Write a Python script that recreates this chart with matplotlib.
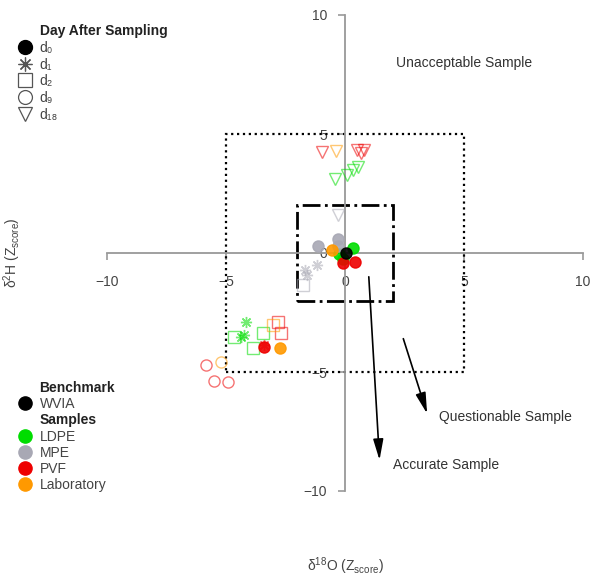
import matplotlib.pyplot as plt
from matplotlib.lines import Line2D
from matplotlib.patches import Rectangle

plt.rcParams['font.family'] = ['Liberation Sans', 'DejaVu Sans']
plt.rcParams['mathtext.fontset'] = 'custom'
plt.rcParams['mathtext.rm'] = 'Liberation Sans'
plt.rcParams['mathtext.it'] = 'Liberation Sans:italic'

# jours de prélèvement
days = [0, 1, 2, 9, 18]
day_labels = ['d₀', 'd₁', 'd₂', 'd₉', 'd₁₈']

# référence
wvia_day = [0]
wvia_x = [0.05]
wvia_y = [0.0]

# échantillons (z-scores delta18O / delta2H)
ldpe_day = [0, 0, 0, 1, 1, 1, 2, 2, 2, 18, 18, 18, 18]
ldpe_x = [-0.25, 0.35, -0.1, -4.17, -4.25, -4.37, -4.67, -3.46, -3.88, -0.42, 0.08, 0.33, 0.54]
ldpe_y = [-0.05, 0.22, -0.25, -2.9, -3.45, -3.53, -3.53, -3.36, -3.99, 3.11, 3.28, 3.49, 3.61]

mpe_day = [0, 0, 0, 1, 1, 1, 2, 18]
mpe_x = [-1.13, -0.29, -0.3, -1.17, -1.58, -1.7, -1.75, -0.29]
mpe_y = [0.29, 0.6, 0.3, -0.5, -0.92, -0.71, -1.34, 1.6]

pvf_day = [0, 0, 0, 1, 2, 2, 9, 9, 9, 18, 18, 18, 18]
pvf_x = [0.42, -0.08, -3.42, -3.42, -2.71, -2.83, -5.83, -5.5, -4.92, -0.96, 0.5, 0.67, 0.79]
pvf_y = [-0.38, -0.42, -3.95, -3.87, -3.36, -2.9, -4.71, -5.38, -5.42, 4.24, 4.33, 4.2, 4.33]

lab_day = [0, 0, 2, 9, 18]
lab_x = [-0.55, -2.75, -3.04, -5.21, -0.38]
lab_y = [0.13, -3.99, -3.03, -4.58, 4.29]

sample_names = ['LDPE', 'MPE', 'PVF', 'Laboratory']
sample_colors = ['#00DD00', '#A8A8B4', '#EE0000', '#FF9900']
sample_data = [(ldpe_day, ldpe_x, ldpe_y), (mpe_day, mpe_x, mpe_y),
               (pvf_day, pvf_x, pvf_y), (lab_day, lab_x, lab_y)]

outer_limit = 5
inner_limit = 2

day_marker = {0: 'o', 1: (8, 2, 0), 2: 's', 9: 'o', 18: 'v'}
day_filled = {0: True, 1: False, 2: False, 9: False, 18: False}


def draw_points(ax, jours, xs, ys, couleur):
    for j, x, y in zip(jours, xs, ys):
        if day_filled[j]:
            ax.plot(x, y, linestyle='None', marker=day_marker[j], markersize=8,
                    color=couleur, markeredgecolor=couleur, alpha=0.9, zorder=4)
        else:
            ax.plot(x, y, linestyle='None', marker=day_marker[j], markersize=8,
                    markerfacecolor='none', markeredgecolor=couleur,
                    markeredgewidth=1.0, alpha=0.55, zorder=3)


fig = plt.figure(figsize=(5.91, 5.77), dpi=100)
ax = fig.add_axes([0, 0, 1, 1])
ax.set_xlim(-345 / 23.8, (591 - 345) / 23.8)
ax.set_ylim(-(577 - 253) / 23.8, 253 / 23.8)

# axes centrés sur l'origine
for s in ['top', 'right']:
    ax.spines[s].set_visible(False)
for s in ['left', 'bottom']:
    ax.spines[s].set_position(('data', 0))
    ax.spines[s].set_bounds(-10, 10)
    ax.spines[s].set_color('#999999')
    ax.spines[s].set_linewidth(1.3)
ax.set_xticks([-10, -5, 0, 5, 10])
ax.set_yticks([-10, -5, 0, 5, 10])
ax.tick_params(axis='x', direction='out', length=5, pad=11, width=1.2,
               colors='#999999', labelcolor='#444444', labelsize=10)
ax.tick_params(axis='y', direction='out', length=5, pad=8, width=1.2,
               colors='#999999', labelcolor='#444444', labelsize=10)

# zones : questionable (pointillé) et accurate (tiret-point)
ax.add_patch(Rectangle((-outer_limit, -outer_limit), 2 * outer_limit, 2 * outer_limit,
                       fill=False, linestyle=':', linewidth=1.6, edgecolor='black', zorder=2))
ax.add_patch(Rectangle((-inner_limit, -inner_limit), 2 * inner_limit, 2 * inner_limit,
                       fill=False, linestyle='-.', linewidth=2.0, edgecolor='black', zorder=2))

for (jours, xs, ys), c in zip(sample_data, sample_colors):
    draw_points(ax, jours, xs, ys, c)
draw_points(ax, wvia_day, wvia_x, wvia_y, 'black')

# flèches et annotations
fleche = dict(arrowstyle='-|>,head_length=0.9,head_width=0.22', color='black', lw=1.2,
              mutation_scale=14, shrinkA=0, shrinkB=0)
ax.annotate('', xy=(1.45, -8.7), xytext=(1.0, -1.0), arrowprops=fleche)
ax.annotate('', xy=(3.45, -6.75), xytext=(2.45, -3.6), arrowprops=fleche)
ax.text(2.0, -8.9, 'Accurate Sample', ha='left', va='center', fontsize=10, color='#333333')
ax.text(3.96, -6.9, 'Questionable Sample', ha='left', va='center', fontsize=10, color='#333333')
ax.text(5.0, 8.0, 'Unacceptable Sample', ha='center', va='center', fontsize=10, color='#333333')

fig.text(345 / 591, 1 - 566 / 577, r'δ$^{18}$O (Z$_{\mathrm{score}}$)', ha='center', va='center',
         fontsize=10, color='#444444')
fig.text(12 / 591, 1 - 253 / 577, r'δ$^{2}$H (Z$_{\mathrm{score}}$)', ha='center', va='center',
         rotation=90, fontsize=10, color='#444444')

# légendes
blank = Line2D([], [], linestyle='None')
day_handles = [blank]
for j in days:
    if day_filled[j]:
        h = Line2D([], [], linestyle='None', marker=day_marker[j], markersize=10, color='black')
    else:
        h = Line2D([], [], linestyle='None', marker=day_marker[j], markersize=10,
                   markerfacecolor='none', markeredgecolor='#555555', markeredgewidth=0.9)
    day_handles.append(h)
leg1 = ax.legend(day_handles, ['Day After Sampling'] + day_labels, loc='upper left',
                 bbox_to_anchor=(18 / 591, 1 - 24 / 577), frameon=False, fontsize=10,
                 handlelength=1.0, handletextpad=0.55, labelspacing=0.2,
                 borderpad=0, borderaxespad=0, labelcolor='#444444')
leg1.get_texts()[0].set_fontweight('bold')
leg1.get_texts()[0].set_color('#222222')
ax.add_artist(leg1)

sample_handles = [blank, Line2D([], [], linestyle='None', marker='o', markersize=9.5, color='black'), blank]
for c in sample_colors:
    sample_handles.append(Line2D([], [], linestyle='None', marker='o', markersize=9.5, color=c))
leg2 = ax.legend(sample_handles, ['Benchmark', 'WVIA', 'Samples'] + sample_names, loc='upper left',
                 bbox_to_anchor=(18 / 591, 1 - 381 / 577), frameon=False, fontsize=10,
                 handlelength=1.0, handletextpad=0.55, labelspacing=0.16,
                 borderpad=0, borderaxespad=0, labelcolor='#444444')
for i in [0, 2]:
    leg2.get_texts()[i].set_fontweight('bold')
    leg2.get_texts()[i].set_color('#222222')

fig.savefig('out.png', dpi=100)
